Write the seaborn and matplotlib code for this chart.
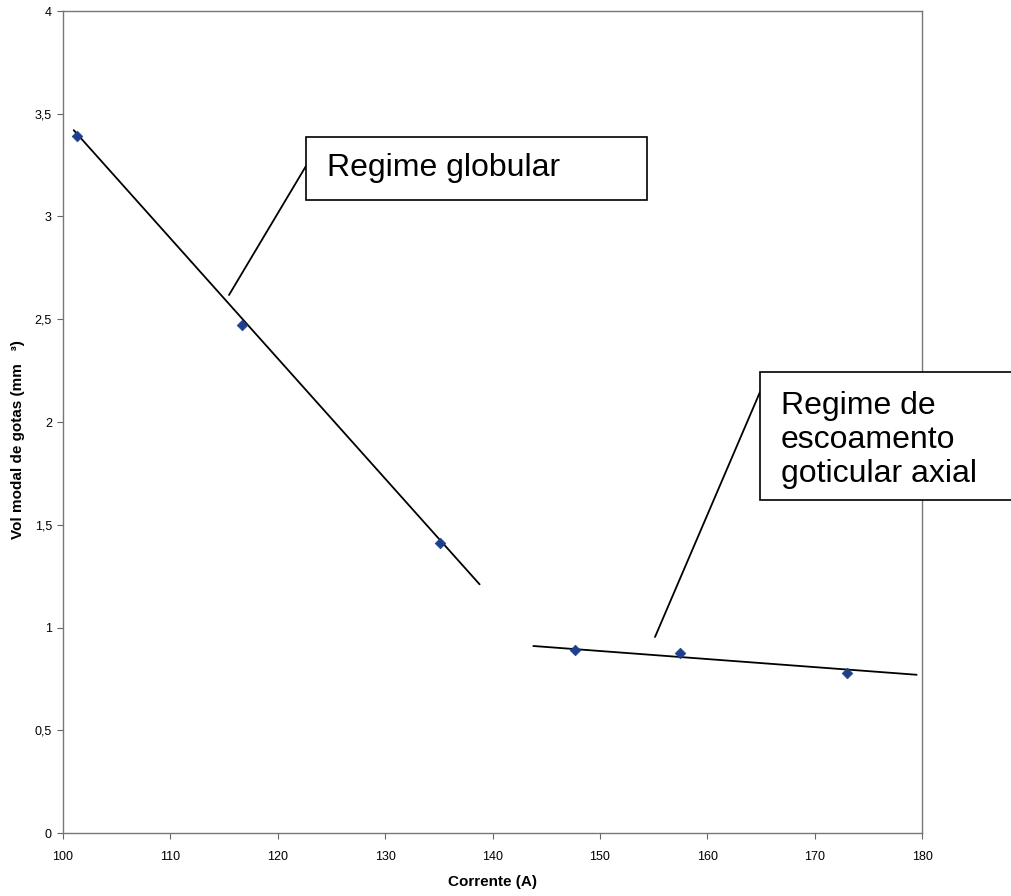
import pandas
import matplotlib
matplotlib.use("Agg")
import matplotlib.pyplot as pyplot
import seaborn
from matplotlib.patches import Rectangle
from matplotlib.lines import Line2D
from matplotlib.ticker import FuncFormatter

# data
corrente = [101.3, 116.7, 135.1, 147.7, 157.5, 173.0]
volume = [3.39, 2.47, 1.41, 0.89, 0.875, 0.78]

# trend lines (endpoints as drawn)
globular_x = [101.0, 138.8]
globular_y = [3.42, 1.21]
axial_x = [143.8, 179.5]
axial_y = [0.91, 0.77]

x_ticks = [100, 110, 120, 130, 140, 150, 160, 170, 180]
y_ticks = [0, 0.5, 1, 1.5, 2, 2.5, 3, 3.5, 4]

df = pandas.DataFrame({"Corrente": corrente, "Volume": volume})

# style
seaborn.set_style("white")
pyplot.rcParams["font.family"] = ["Liberation Sans", "DejaVu Sans"]
pyplot.rcParams["text.color"] = "black"
pyplot.rcParams["axes.labelcolor"] = "black"
pyplot.rcParams["xtick.color"] = "black"
pyplot.rcParams["ytick.color"] = "black"

W, H = 1011, 896
fig = pyplot.figure(figsize=(W / 100, H / 100), dpi=100)
ax = fig.add_axes([63 / W, 1 - 833 / H, (922 - 63) / W, (833 - 11) / H])

seaborn.lineplot(x=globular_x, y=globular_y, color="black", linewidth=1.3, ax=ax)
seaborn.lineplot(x=axial_x, y=axial_y, color="black", linewidth=1.3, ax=ax)
seaborn.scatterplot(
    data=df, x="Corrente", y="Volume", marker="D", s=30,
    color="#1d3f8c", edgecolor="#1d3f8c", zorder=3, ax=ax,
)

ax.set_xlim(100, 180)
ax.set_ylim(0, 4)
ax.set_xticks(x_ticks)
ax.set_yticks(y_ticks)
comma = FuncFormatter(lambda v, p: f"{v:g}".replace(".", ","))
ax.xaxis.set_major_formatter(comma)
ax.yaxis.set_major_formatter(comma)
ax.tick_params(axis="both", direction="out", length=4, width=0.8,
               color="#666666", labelsize=9, bottom=True, left=True)
ax.tick_params(axis="x", pad=9)
ax.tick_params(axis="y", pad=4)
for s in ax.spines.values():
    s.set_color("#777777")
    s.set_linewidth(1.0)

ax.set_xlabel("Corrente (A)", fontweight="bold", fontsize=11)
ax.set_ylabel("Vol modal de gotas (mm   ³)", fontweight="bold", fontsize=11)
ax.xaxis.set_label_coords(0.5, -42 / 822)
ax.yaxis.set_label_coords(-38 / 859, (833 - 440) / 822)


# annotations in pixel coordinates of the figure
def px(x, y):
    return x / W, 1 - y / H


def box(x0, y0, x1, y1):
    r = Rectangle(px(x0, y1), (x1 - x0) / W, (y1 - y0) / H,
                  transform=fig.transFigure, facecolor="white",
                  edgecolor="black", linewidth=1.2, zorder=5)
    fig.patches.append(r)


def leader(x0, y0, x1, y1):
    a, b = px(x0, y0)
    c, d = px(x1, y1)
    fig.lines.append(Line2D([a, c], [b, d], transform=fig.transFigure,
                            color="black", linewidth=1.3))


leader(306, 166, 229, 295)
box(306, 137, 647, 200)
fig.text(*px(327, 168), "Regime globular", fontsize=23, va="center", ha="left", zorder=6)

leader(760, 392, 655, 637)
box(760, 372, 1040, 500)
fig.text(*px(781, 440), "Regime de\nescoamento\ngoticular axial", fontsize=23,
         va="center", ha="left", linespacing=1.18, zorder=6)

fig.savefig("out.png", dpi=100)
